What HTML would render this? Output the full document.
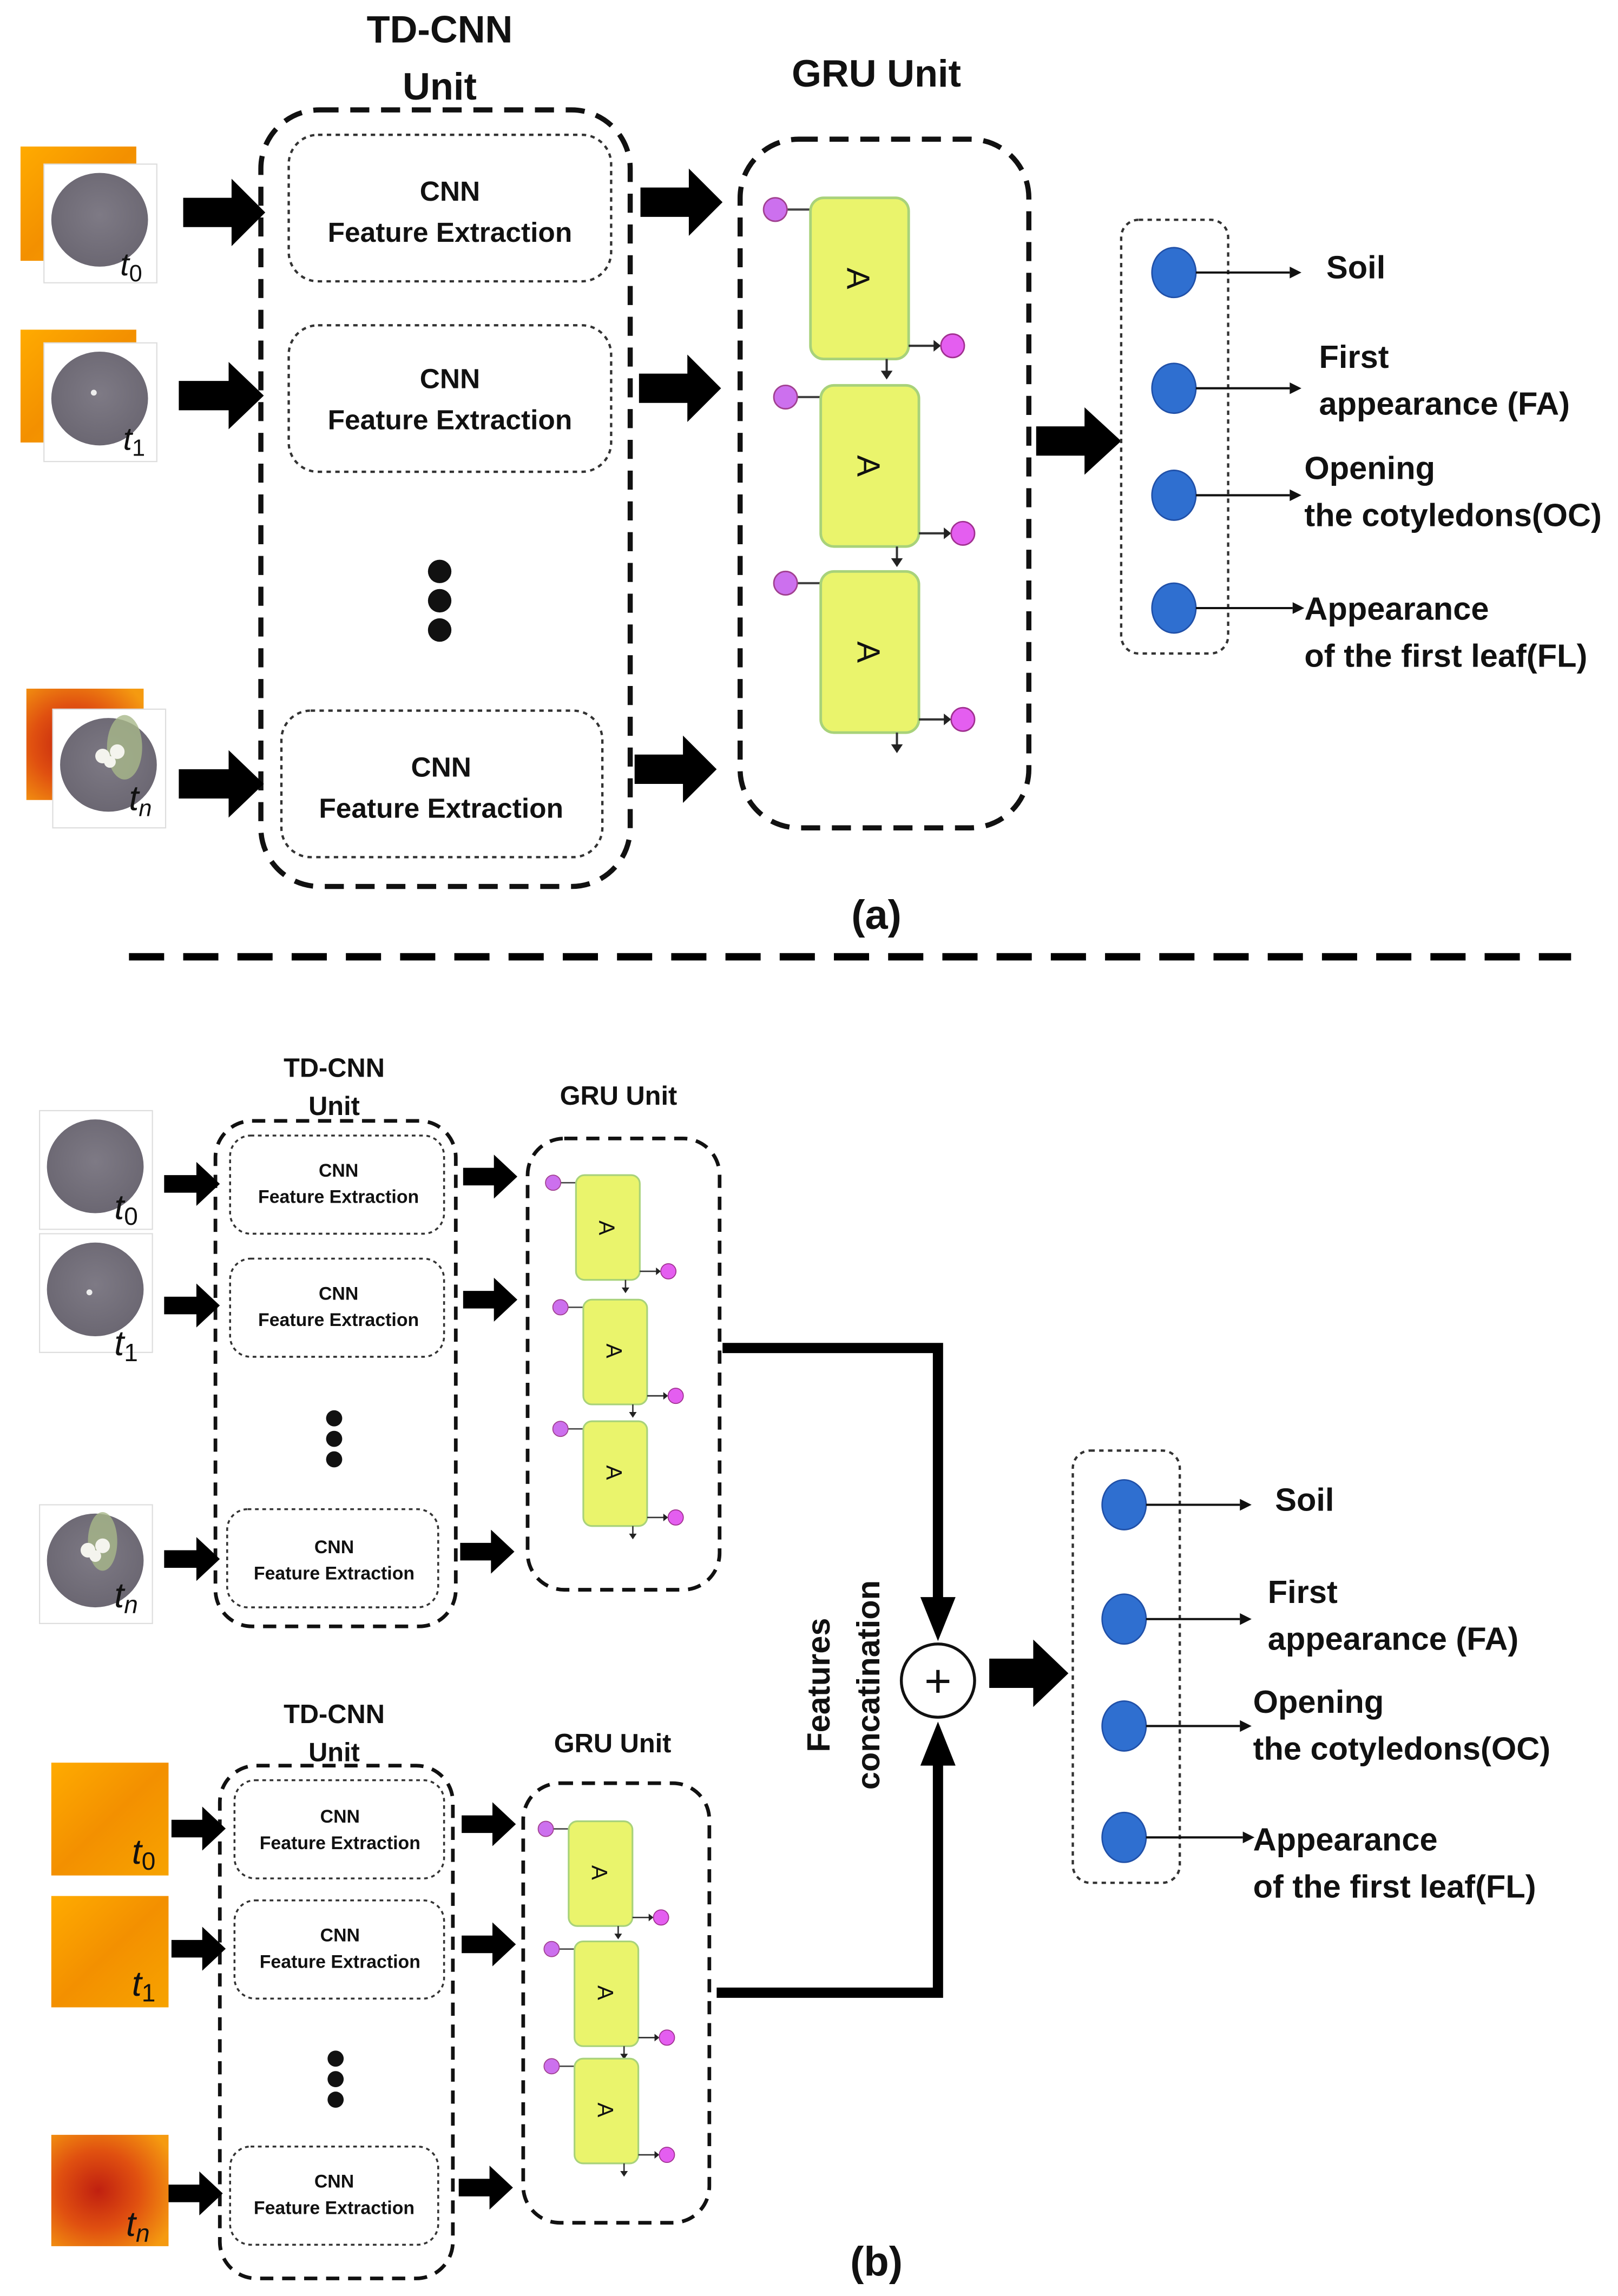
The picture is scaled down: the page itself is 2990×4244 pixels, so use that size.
<!DOCTYPE html>
<html><head><meta charset="utf-8"><style>
html,body{margin:0;padding:0;background:#fff}
svg{display:block}
text{font-family:"Liberation Sans","DejaVu Sans",sans-serif;fill:#111}
.b{font-weight:bold}
</style></head><body>
<svg width="2990" height="4244" viewBox="0 0 1104 1567" preserveAspectRatio="none" xmlns="http://www.w3.org/2000/svg">
<defs>
<radialGradient id="soil" cx="50%" cy="45%" r="55%"><stop offset="0" stop-color="#7e7a85"/><stop offset="1" stop-color="#6b6772"/></radialGradient>
<linearGradient id="or" x1="0" y1="0" x2="1" y2="1"><stop offset="0" stop-color="#ffab00"/><stop offset="0.5" stop-color="#f39000"/><stop offset="1" stop-color="#f7a300"/></linearGradient>
<radialGradient id="or2" cx="40%" cy="50%" r="70%"><stop offset="0" stop-color="#c02010"/><stop offset="0.5" stop-color="#e05010"/><stop offset="1" stop-color="#f59a10"/></radialGradient>
<symbol id="ab" overflow="visible">
<line x1="-16" y1="8" x2="0" y2="8" stroke="#444" stroke-width="1.5"/>
<circle cx="-24" cy="8" r="8" fill="#cc70ee" stroke="#a04090" stroke-width="1"/>
<rect x="0" y="0" width="67" height="110" rx="9" fill="#eaf46c" stroke="#a8d27a" stroke-width="1.8"/>
<line x1="67" y1="101" x2="88" y2="101" stroke="#333" stroke-width="1.5"/>
<polygon points="84,97 89,101 84,105" fill="#222"/>
<circle cx="97" cy="101" r="8" fill="#e45ef0" stroke="#a03090" stroke-width="1"/>
<line x1="52" y1="110" x2="52" y2="122" stroke="#333" stroke-width="1.5"/>
<polygon points="48,118 52,124 56,118" fill="#222"/>
</symbol>
<symbol id="img" overflow="visible">
<rect x="0" y="0" width="77" height="81" fill="#fff" stroke="#ddd" stroke-width="0.8"/>
<ellipse cx="38" cy="38" rx="33" ry="32" fill="url(#soil)"/>
</symbol>
</defs>

<!-- ===== (a) ===== -->
<text x="300" y="29" font-size="26" class="b" text-anchor="middle">TD-CNN</text>
<text x="300" y="68" font-size="26" class="b" text-anchor="middle">Unit</text>
<text x="598" y="59" font-size="26" class="b" text-anchor="middle">GRU Unit</text>

<rect x="178" y="75" width="252" height="530" rx="40" fill="none" stroke="#111" stroke-width="3.5" stroke-dasharray="13,8"/>
<g fill="none" stroke="#333" stroke-width="1.6" stroke-dasharray="3,3">
<rect x="197" y="92" width="220" height="100" rx="20"/>
<rect x="197" y="222" width="220" height="100" rx="20"/>
<rect x="192" y="485" width="219" height="100" rx="20"/>
</g>
<g font-size="19" text-anchor="middle" class="b">
<text x="307" y="137">CNN</text><text x="307" y="165">Feature Extraction</text>
<text x="307" y="265">CNN</text><text x="307" y="293">Feature Extraction</text>
<text x="301" y="530">CNN</text><text x="301" y="558">Feature Extraction</text>
</g>
<circle cx="300" cy="390" r="8" fill="#111"/><circle cx="300" cy="410" r="8" fill="#111"/><circle cx="300" cy="430" r="8" fill="#111"/>

<!-- images a -->
<rect x="14" y="100" width="79" height="78" fill="url(#or)"/>
<use href="#img" x="30" y="112"/>
<text x="82" y="188" font-size="22" font-style="italic" font-family="Liberation Serif">t<tspan font-size="16" dy="4" font-style="normal">0</tspan></text>
<rect x="14" y="225" width="79" height="77" fill="url(#or)"/>
<use href="#img" x="30" y="234"/>
<circle cx="64" cy="268" r="2" fill="#eee"/>
<text x="84" y="307" font-size="22" font-style="italic" font-family="Liberation Serif">t<tspan font-size="16" dy="4" font-style="normal">1</tspan></text>
<rect x="18" y="470" width="80" height="76" fill="url(#or2)"/>
<use href="#img" x="36" y="484"/>
<ellipse cx="85" cy="510" rx="12" ry="22" fill="#a8b88a" opacity="0.8"/>
<circle cx="70" cy="516" r="5" fill="#f4f4ee"/><circle cx="80" cy="513" r="5" fill="#f4f4ee"/><circle cx="75" cy="520" r="4" fill="#f4f4ee"/>
<text x="88" y="553" font-size="24" font-style="italic" font-family="Liberation Serif">t<tspan font-size="16" dy="4">n</tspan></text>

<!-- big arrows a -->
<g fill="#000">
<path d="M125,135 H158 V122 L181,145 L158,168 V155 H125Z"/>
<path d="M122,260 H156 V247 L180,270 L156,293 V280 H122Z"/>
<path d="M122,525 H156 V512 L180,535 L156,558 V545 H122Z"/>
<path d="M437,128 H470 V115 L493,138 L470,161 V148 H437Z"/>
<path d="M436,255 H469 V242 L492,265 L469,288 V275 H436Z"/>
<path d="M433,515 H466 V502 L489,525 L466,548 V535 H433Z"/>
<path d="M707,291 H740 V278 L765,301 L740,324 V311 H707Z"/>
</g>

<rect x="505" y="95" width="197" height="470" rx="40" fill="none" stroke="#111" stroke-width="3.5" stroke-dasharray="13,8"/>
<use href="#ab" x="553" y="135"/>
<use href="#ab" x="560" y="263"/>
<use href="#ab" x="560" y="390"/>
<g font-size="22" text-anchor="middle">
<text transform="translate(586,190) rotate(90)" y="8">A</text>
<text transform="translate(593,318) rotate(90)" y="8">A</text>
<text transform="translate(593,445) rotate(90)" y="8">A</text>
</g>

<rect x="765" y="150" width="73" height="296" rx="12" fill="none" stroke="#333" stroke-width="1.6" stroke-dasharray="3,3"/>
<g fill="#2f6fd0" stroke="#2050a8" stroke-width="1">
<ellipse cx="801" cy="186" rx="15" ry="17"/><ellipse cx="801" cy="265" rx="15" ry="17"/>
<ellipse cx="801" cy="338" rx="15" ry="17"/><ellipse cx="801" cy="415" rx="15" ry="17"/>
</g>
<g stroke="#111" stroke-width="1.5">
<line x1="816" y1="186" x2="880" y2="186"/><line x1="816" y1="265" x2="880" y2="265"/>
<line x1="816" y1="338" x2="880" y2="338"/><line x1="816" y1="415" x2="882" y2="415"/>
</g>
<g fill="#111">
<polygon points="880,182 888,186 880,190"/><polygon points="880,261 888,265 880,269"/>
<polygon points="880,334 888,338 880,342"/><polygon points="882,411 890,415 882,419"/>
</g>
<g font-size="22" class="b">
<text x="905" y="190">Soil</text>
<text x="900" y="251">First</text><text x="900" y="283">appearance (FA)</text>
<text x="890" y="327">Opening</text><text x="890" y="359">the cotyledons(OC)</text>
<text x="890" y="423">Appearance</text><text x="890" y="455">of the first leaf(FL)</text>
</g>
<text x="598" y="634" font-size="28" class="b" text-anchor="middle">(a)</text>

<line x1="88" y1="653" x2="1072" y2="653" stroke="#000" stroke-width="5" stroke-dasharray="24,13"/>

<!-- ===== (b) top ===== -->
<g font-size="18" class="b" text-anchor="middle">
<text x="228" y="735">TD-CNN</text><text x="228" y="761">Unit</text>
<text x="422" y="754">GRU Unit</text>
<text x="228" y="1176">TD-CNN</text><text x="228" y="1202">Unit</text>
<text x="418" y="1196">GRU Unit</text>
</g>
<g fill="none" stroke="#111" stroke-width="2.5" stroke-dasharray="9,6">
<rect x="147" y="765" width="164" height="345" rx="25"/>
<rect x="360" y="777" width="131" height="308" rx="25"/>
<rect x="150" y="1205" width="159" height="350" rx="25"/>
<rect x="357" y="1217" width="127" height="300" rx="25"/>
</g>
<g fill="none" stroke="#333" stroke-width="1.3" stroke-dasharray="2.5,2.5">
<rect x="157" y="775" width="146" height="67" rx="14"/>
<rect x="157" y="859" width="146" height="67" rx="14"/>
<rect x="155" y="1030" width="144" height="67" rx="14"/>
<rect x="160" y="1215" width="143" height="67" rx="14"/>
<rect x="160" y="1297" width="143" height="67" rx="14"/>
<rect x="157" y="1465" width="142" height="67" rx="14"/>
</g>
<g font-size="12.5" text-anchor="middle" class="b">
<text x="231" y="803">CNN</text><text x="231" y="821">Feature Extraction</text>
<text x="231" y="887">CNN</text><text x="231" y="905">Feature Extraction</text>
<text x="228" y="1060">CNN</text><text x="228" y="1078">Feature Extraction</text>
<text x="232" y="1244">CNN</text><text x="232" y="1262">Feature Extraction</text>
<text x="232" y="1325">CNN</text><text x="232" y="1343">Feature Extraction</text>
<text x="228" y="1493">CNN</text><text x="228" y="1511">Feature Extraction</text>
</g>
<g fill="#111">
<circle cx="228" cy="968" r="5.5"/><circle cx="228" cy="982" r="5.5"/><circle cx="228" cy="996" r="5.5"/>
<circle cx="229" cy="1405" r="5.5"/><circle cx="229" cy="1419" r="5.5"/><circle cx="229" cy="1433" r="5.5"/>
</g>

<!-- images b top -->
<use href="#img" x="27" y="758"/>
<text x="78" y="832" font-size="24" font-style="italic" font-family="Liberation Serif">t<tspan font-size="17" dy="4" font-style="normal">0</tspan></text>
<use href="#img" x="27" y="842"/>
<circle cx="61" cy="882" r="2" fill="#eee"/>
<text x="78" y="925" font-size="24" font-style="italic" font-family="Liberation Serif">t<tspan font-size="17" dy="4" font-style="normal">1</tspan></text>
<use href="#img" x="27" y="1027"/>
<ellipse cx="70" cy="1052" rx="10" ry="20" fill="#a8b88a" opacity="0.8"/>
<circle cx="60" cy="1058" r="5" fill="#f4f4ee"/><circle cx="70" cy="1055" r="5" fill="#f4f4ee"/><circle cx="65" cy="1062" r="4" fill="#f4f4ee"/>
<text x="78" y="1097" font-size="24" font-style="italic" font-family="Liberation Serif">t<tspan font-size="17" dy="4">n</tspan></text>

<!-- images b bottom (thermal) -->
<rect x="35" y="1203" width="80" height="77" fill="url(#or)"/>
<text x="90" y="1272" font-size="24" font-style="italic" font-family="Liberation Serif">t<tspan font-size="17" dy="4" font-style="normal">0</tspan></text>
<rect x="35" y="1294" width="80" height="76" fill="url(#or)"/>
<text x="90" y="1362" font-size="24" font-style="italic" font-family="Liberation Serif">t<tspan font-size="17" dy="4" font-style="normal">1</tspan></text>
<rect x="35" y="1457" width="80" height="76" fill="url(#or2)"/>
<text x="86" y="1526" font-size="24" font-style="italic" font-family="Liberation Serif">t<tspan font-size="17" dy="4">n</tspan></text>

<g fill="#000">
<path d="M112,802 H134 V793 L150,808 L134,823 V814 H112Z"/>
<path d="M112,885 H134 V876 L150,891 L134,906 V897 H112Z"/>
<path d="M112,1058 H134 V1049 L150,1064 L134,1079 V1070 H112Z"/>
<path d="M316,797 H337 V788 L353,803 L337,818 V809 H316Z"/>
<path d="M316,881 H337 V872 L353,887 L337,902 V893 H316Z"/>
<path d="M314,1053 H335 V1044 L351,1059 L335,1074 V1065 H314Z"/>
<path d="M117,1242 H138 V1233 L154,1248 L138,1263 V1254 H117Z"/>
<path d="M117,1324 H138 V1315 L154,1330 L138,1345 V1336 H117Z"/>
<path d="M115,1491 H136 V1482 L152,1497 L136,1512 V1503 H115Z"/>
<path d="M315,1239 H336 V1230 L352,1245 L336,1260 V1251 H315Z"/>
<path d="M315,1321 H336 V1312 L352,1327 L336,1342 V1333 H315Z"/>
<path d="M313,1487 H334 V1478 L350,1493 L334,1508 V1499 H313Z"/>
<path d="M675,1132 H705 V1119 L729,1142 L705,1165 V1152 H675Z"/>
</g>

<g transform="translate(393,802) scale(0.65)"><use href="#ab"/></g>
<g transform="translate(398,887) scale(0.65)"><use href="#ab"/></g>
<g transform="translate(398,970) scale(0.65)"><use href="#ab"/></g>
<g transform="translate(388,1243) scale(0.65)"><use href="#ab"/></g>
<g transform="translate(392,1325) scale(0.65)"><use href="#ab"/></g>
<g transform="translate(392,1405) scale(0.65)"><use href="#ab"/></g>
<g font-size="15" text-anchor="middle">
<text transform="translate(414,838) rotate(90)" y="5">A</text>
<text transform="translate(419,922) rotate(90)" y="5">A</text>
<text transform="translate(419,1005) rotate(90)" y="5">A</text>
<text transform="translate(409,1278) rotate(90)" y="5">A</text>
<text transform="translate(413,1360) rotate(90)" y="5">A</text>
<text transform="translate(413,1440) rotate(90)" y="5">A</text>
</g>

<!-- connectors -->
<polyline points="493,920 640,920 640,1095" fill="none" stroke="#000" stroke-width="7"/>
<polygon points="628,1090 652,1090 640,1120" fill="#000"/>
<polyline points="489,1360 640,1360 640,1200" fill="none" stroke="#000" stroke-width="7"/>
<polygon points="628,1205 652,1205 640,1175" fill="#000"/>
<circle cx="640" cy="1147" r="25" fill="#fff" stroke="#111" stroke-width="2"/>
<text x="640" y="1158" font-size="32" text-anchor="middle">+</text>
<g font-size="22" class="b" text-anchor="middle">
<text transform="translate(566,1150) rotate(-90)">Features</text>
<text transform="translate(600,1150) rotate(-90)">concatination</text>
</g>

<rect x="732" y="990" width="73" height="295" rx="12" fill="none" stroke="#333" stroke-width="1.6" stroke-dasharray="3,3"/>
<g fill="#2f6fd0" stroke="#2050a8" stroke-width="1">
<ellipse cx="767" cy="1027" rx="15" ry="17"/><ellipse cx="767" cy="1105" rx="15" ry="17"/>
<ellipse cx="767" cy="1178" rx="15" ry="17"/><ellipse cx="767" cy="1254" rx="15" ry="17"/>
</g>
<g stroke="#111" stroke-width="1.5">
<line x1="782" y1="1027" x2="846" y2="1027"/><line x1="782" y1="1105" x2="846" y2="1105"/>
<line x1="782" y1="1178" x2="846" y2="1178"/><line x1="782" y1="1254" x2="848" y2="1254"/>
</g>
<g fill="#111">
<polygon points="846,1023 854,1027 846,1031"/><polygon points="846,1101 854,1105 846,1109"/>
<polygon points="846,1174 854,1178 846,1182"/><polygon points="848,1250 856,1254 848,1258"/>
</g>
<g font-size="22" class="b">
<text x="870" y="1031">Soil</text>
<text x="865" y="1094">First</text><text x="865" y="1126">appearance (FA)</text>
<text x="855" y="1169">Opening</text><text x="855" y="1201">the cotyledons(OC)</text>
<text x="855" y="1263">Appearance</text><text x="855" y="1295">of the first leaf(FL)</text>
</g>
<text x="598" y="1553" font-size="28" class="b" text-anchor="middle">(b)</text>
</svg>
</body></html>
